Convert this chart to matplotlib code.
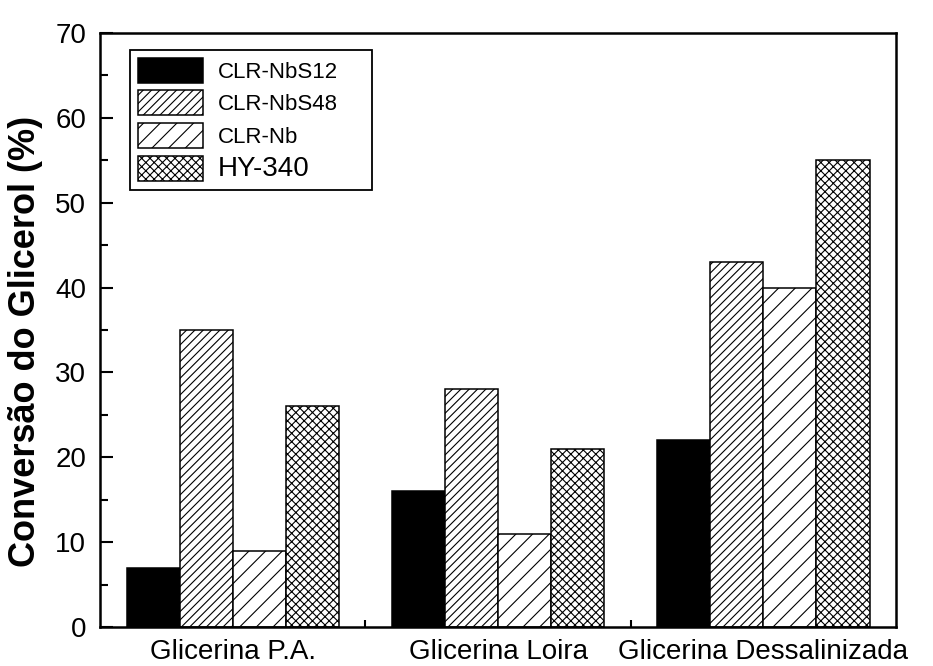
import matplotlib
matplotlib.use("Agg")
import matplotlib.pyplot as plt
import numpy as np
from matplotlib.ticker import MultipleLocator, FixedLocator

plt.rcParams['font.family'] = ['Liberation Sans', 'DejaVu Sans']
plt.rcParams['hatch.linewidth'] = 0.8

# Glycerol conversion by catalyst and glycerol type
groups = ["Glicerina P.A.", "Glicerina Loira", "Glicerina Dessalinizada"]
catalysts = ["CLR-NbS12", "CLR-NbS48", "CLR-Nb", "HY-340"]
clr_nbs12 = [7, 16, 22]
clr_nbs48 = [35, 28, 43]
clr_nb = [9, 11, 40]
hy_340 = [26, 21, 55]
series = [clr_nbs12, clr_nbs48, clr_nb, hy_340]

fills = ["black", "white", "white", "white"]
hatches = [None, "////", "//", "xxxx"]

fig = plt.figure(figsize=(9.33, 6.66), dpi=100)
ax = fig.add_axes([0.1072, 0.0586, 0.8532, 0.8919])

x = np.arange(1, len(groups) + 1)
width = 0.2
for i, (vals, name) in enumerate(zip(series, catalysts)):
    ax.bar(x + (i - 1.5) * width, vals, width, color=fills[i],
           edgecolor="black", linewidth=1.1, hatch=hatches[i], label=name)

ax.set_xlim(0.5, 3.5)
ax.set_ylim(0, 70)

ax.set_xticks(x)
ax.set_xticklabels(groups, fontsize=20)
ax.xaxis.set_minor_locator(FixedLocator([1.5, 2.5]))
ax.tick_params(axis="x", which="major", length=0, pad=9)
ax.tick_params(axis="x", which="minor", direction="in", length=5, width=1.5)

ax.yaxis.set_major_locator(MultipleLocator(10))
ax.yaxis.set_minor_locator(MultipleLocator(5))
ax.tick_params(axis="y", which="major", direction="in", length=9, width=1.5,
               labelsize=20, pad=10)
ax.tick_params(axis="y", which="minor", direction="in", length=5.5, width=1.5)

for sp in ax.spines.values():
    sp.set_linewidth(1.8)

ax.set_ylabel("Conversão do Glicerol (%)", fontsize=26, fontweight="bold")
ax.yaxis.set_label_coords(-0.072, 0.48)

leg = ax.legend(loc="upper left",
                bbox_to_anchor=(30 / 796, 1 - 17 / 594, 242 / 796, 0),
                mode="expand", borderaxespad=0, fontsize=16,
                handlelength=2.93, handleheight=1.35, labelspacing=0.35,
                handletextpad=0.68, borderpad=0.35, fancybox=False,
                framealpha=1, edgecolor="black")
leg.get_frame().set_linewidth(1.3)
leg.get_texts()[3].set_fontsize(20)

fig.savefig("out.png", dpi=100)
